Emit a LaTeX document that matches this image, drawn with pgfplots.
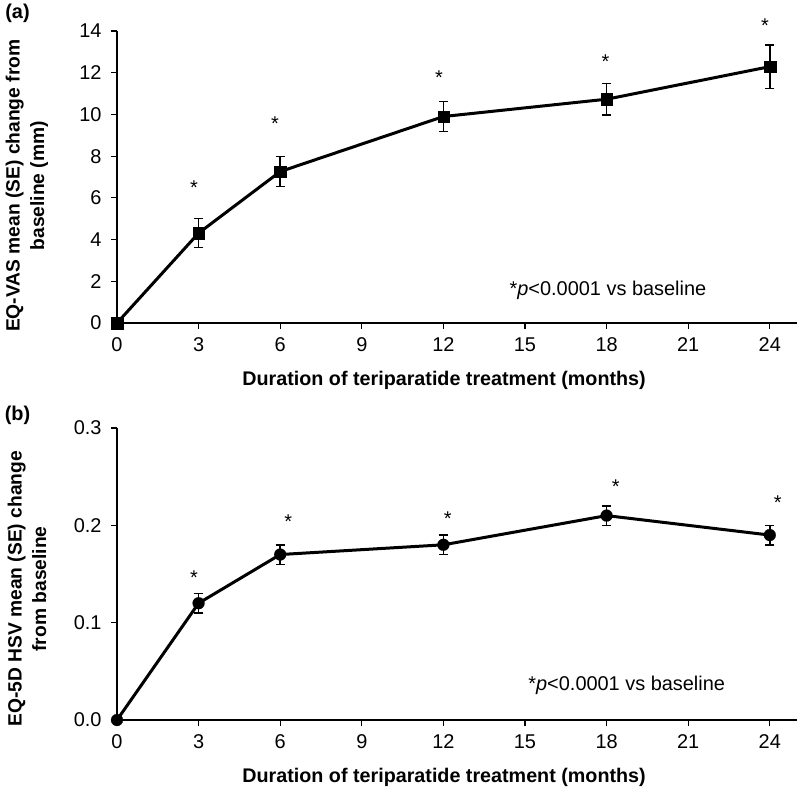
\documentclass[border=0pt]{standalone}
\usepackage{fontspec}
\setmainfont{Liberation Sans}
\usepackage{pgfplots}
\pgfplotsset{compat=1.18}
\pgfplotsset{mystyle/.style={
  scale only axis, width=680bp, height=292bp,
  axis x line=bottom, axis y line=left,
  axis line style={-, line width=1.2bp, black},
  xmin=0, xmax=25, xtick={0,3,...,24},
  tick align=outside, major tick length=6bp,
  tick style={line width=1.2bp, black},
  ticklabel style={font=\fontsize{20}{24}\selectfont},
  xticklabel style={yshift=-5bp},
  yticklabel style={xshift=-6bp},
  /pgf/number format/assume math mode=true,
  clip=false,
  xlabel={Duration of teriparatide treatment (months)},
  xlabel style={font=\bfseries\fontsize{19.8}{24}\selectfont, at={(axis description cs:0.481,-0.195)}, anchor=center},
  ylabel style={font=\bfseries\fontsize{19.3}{24.5}\selectfont, align=center, anchor=center},
}}
\newcommand{\sigstar}[2]{\node[font=\fontsize{20}{24}\selectfont, inner sep=0pt] at (axis cs:#1,#2) {*};}
\begin{document}
\begin{tikzpicture}
\useasboundingbox (-117bp,-466bp) rectangle (683bp,323bp);
\begin{axis}[mystyle, ymin=0, ymax=14, ytick={0,2,...,14},
  ylabel={EQ-VAS mean (SE) change from\\baseline (mm)},
  ylabel style={at={(axis description cs:-0.1324,0.47)}}]
\addplot[black, line width=3bp, mark=square*, mark size=5.8bp,
  mark options={solid, fill=black, line width=0.1bp},
  error bars/.cd, y dir=both, y explicit,
  error bar style={line width=1.5bp, black},
  error mark options={line width=1.5bp, mark size=4.5bp, black, rotate=90}]
  table[x=x, y=y, y error=e] {
x y e
0 0 0
3 4.31 0.69
6 7.26 0.72
12 9.90 0.71
18 10.73 0.76
24 12.29 1.04
};
\sigstar{2.83}{6.48}
\sigstar{5.81}{9.56}
\sigstar{11.84}{11.76}
\sigstar{17.96}{12.53}
\sigstar{23.82}{14.25}
\node[font=\fontsize{20}{24}\selectfont] at (axis cs:18.05,1.55) {*\textit{p}<0.0001 vs baseline};
\end{axis}
\begin{axis}[mystyle, at={(0,-397bp)}, ymin=0, ymax=0.3, ytick={0,0.1,0.2,0.3},
  yticklabel style={/pgf/number format/.cd, fixed, fixed zerofill, precision=1},
  ylabel={EQ-5D HSV mean (SE) change\\from baseline},
  ylabel style={at={(axis description cs:-0.1324,0.449)}}]
\addplot[black, line width=3bp, mark=*, mark size=6bp,
  mark options={solid, fill=black, line width=0.1bp},
  error bars/.cd, y dir=both, y explicit,
  error bar style={line width=1.5bp, black},
  error mark options={line width=1.5bp, mark size=4.5bp, black, rotate=90}]
  table[x=x, y=y, y error=e] {
x y e
0 0 0
3 0.12 0.01
6 0.17 0.01
12 0.18 0.01
18 0.21 0.01
24 0.19 0.01
};
\sigstar{2.83}{0.1464}
\sigstar{6.30}{0.2037}
\sigstar{12.16}{0.2064}
\sigstar{18.34}{0.240}
\sigstar{24.29}{0.2229}
\node[font=\fontsize{20}{24}\selectfont] at (axis cs:18.74,0.0353) {*\textit{p}<0.0001 vs baseline};
\end{axis}
\node[font=\bfseries\fontsize{20}{24}\selectfont] at (-99.5bp,310bp) {(a)};
\node[font=\bfseries\fontsize{20}{24}\selectfont] at (-99.5bp,-92bp) {(b)};
\end{tikzpicture}
\end{document}
